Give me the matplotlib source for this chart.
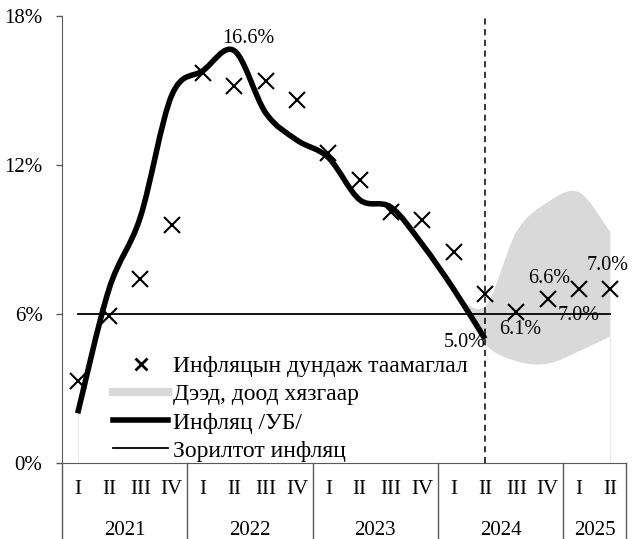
import numpy as np
import matplotlib.pyplot as plt
import matplotlib.transforms as mtrans
from matplotlib.path import Path
from matplotlib.patches import PathPatch
from matplotlib.lines import Line2D

plt.rcParams['font.family'] = ['Liberation Serif', 'DejaVu Serif']

# data
quarters = ['I', 'II', 'III', 'IV'] * 4 + ['I', 'II']
years = ['2021', '2022', '2023', '2024', '2025']
year_len = [4, 4, 4, 4, 2]

inflation = [2.0, 7.0, 9.9, 14.8, 15.8, 16.6, 14.1, 13.0, 12.3, 10.6, 10.3, 8.8, 7.0, 5.0]
forecast = [3.3, 5.9, 7.4, 9.6, 15.7, 15.2, 15.4, 14.6, 12.5, 11.4, 10.1, 9.8, 8.5, 6.8,
            6.1, 6.6, 7.0, 7.0]
band_start = 12
band_upper = [6.9, 6.3, 9.3, 10.5, 10.9, 9.3]
band_lower = [6.9, 4.8, 4.1, 4.0, 4.5, 5.1]
target = 6.0


def smooth(xs, ys):
    # excel-like smoothed line as bezier segments
    pts = np.column_stack([xs, ys]).astype(float)
    n = len(pts)
    verts = [pts[0]]
    codes = [Path.MOVETO]
    for i in range(n - 1):
        p0 = pts[max(i - 1, 0)]
        p1 = pts[i]
        p2 = pts[i + 1]
        p3 = pts[min(i + 2, n - 1)]
        verts += [p1 + (p2 - p0) / 6, p2 - (p3 - p1) / 6, p2]
        codes += [Path.CURVE4] * 3
    return verts, codes


fig = plt.figure(figsize=(6.32, 5.39), dpi=100)
ax = fig.add_axes([62 / 632, 76 / 539, 564 / 632, 447 / 539])
ax.set_xlim(-0.5, len(quarters) - 0.5)
ax.set_ylim(0, 18)

grey = '#d9d9d9'
axcol = '#595959'

# band
bx = np.arange(band_start, band_start + len(band_upper))
uv, uc = smooth(bx, band_upper)
lv, lc = smooth(bx[::-1], band_lower[::-1])
verts = uv + lv + [uv[0]]
codes = uc + [Path.LINETO] + lc[1:] + [Path.CLOSEPOLY]
ax.add_patch(PathPatch(Path(verts, codes), facecolor=grey, edgecolor='none', zorder=1))
ax.plot([0, 0], [0, inflation[0]], color='#ececec', lw=1, zorder=1)
ax.plot([bx[-1], bx[-1]], [0, band_lower[-1]], color='#ececec', lw=1, zorder=1)

# target
ax.plot([0, len(quarters) - 1], [target, target], color='black', lw=1.3, zorder=2)

# vertical dashed
ax.plot([13, 13], [0, 18], color='black', lw=1.1, ls=(0, (4, 3)), zorder=2)

# inflation line
iv, ic = smooth(np.arange(len(inflation)), inflation)
ax.add_patch(PathPatch(Path(iv, ic), facecolor='none', edgecolor='black', lw=4,
                       capstyle='butt', zorder=3))

# forecast markers
xf = np.arange(len(forecast))
ax.plot(xf, forecast, ls='none', marker='x', ms=11, mew=1.5, color='black', zorder=4)

px = 0.72
fs_lab = 14.5
ax.annotate(f'{max(inflation):.1f}%', (inflation.index(max(inflation)), max(inflation)),
            xytext=(14 * px, 12 * px), textcoords='offset points', ha='center', va='center',
            fontsize=fs_lab)
ax.annotate(f'{inflation[-1]:.1f}%', (len(inflation) - 1, inflation[-1]),
            xytext=(1 * px, -4 * px), textcoords='offset points', ha='right', va='center',
            fontsize=fs_lab)
offs = {14: (4, -18), 15: (2, 21), 16: (0, -26), 17: (-3, 24)}
for i, (dx, dy) in offs.items():
    ax.annotate(f'{forecast[i]:.1f}%', (i, forecast[i]), xytext=(dx * px, dy * px),
                textcoords='offset points', ha='center', va='center', fontsize=fs_lab)

# axes styling
for s in ['top', 'right']:
    ax.spines[s].set_visible(False)
ax.spines['left'].set_color(axcol)
ax.spines['bottom'].set_color(axcol)
ax.set_yticks([0, 6, 12, 18])
ax.set_yticklabels(['0%', '6%', '12%', '18%'])
ax.tick_params(axis='y', direction='out', length=4, width=1, color=axcol, pad=10, labelsize=15)
ax.set_xticks([])

# two level category axis
tr = mtrans.blended_transform_factory(ax.transData, ax.transAxes)
for i, q in enumerate(quarters):
    ax.text(i, -0.06, q, transform=tr, ha='center', va='center', fontsize=15)
pos = -0.5
ax.plot([pos, pos], [0, -0.2], transform=tr, color=axcol, lw=1, clip_on=False)
for y, n in zip(years, year_len):
    ax.text(pos + n / 2, -0.15, y, transform=tr, ha='center', va='center', fontsize=15)
    pos += n
    ax.plot([pos, pos], [0, -0.2], transform=tr, color=axcol, lw=1, clip_on=False)

# legend
handles = [
    Line2D([], [], ls='none', marker='x', ms=9, mew=2, color='black'),
    Line2D([], [], color=grey, lw=6),
    Line2D([], [], color='black', lw=4),
    Line2D([], [], color='black', lw=1.3),
]
labels = ['Инфляцын дундаж таамаглал', 'Дээд, доод хязгаар', 'Инфляц /УБ/', 'Зорилтот инфляц']
ax.legend(handles, labels, loc='upper left', bbox_to_anchor=(0.09, 0.24), frameon=False,
          fontsize=17, handlelength=2.35, handletextpad=0.2, labelspacing=0.28,
          borderpad=0, borderaxespad=0)

fig.savefig('out.png', dpi=100)
